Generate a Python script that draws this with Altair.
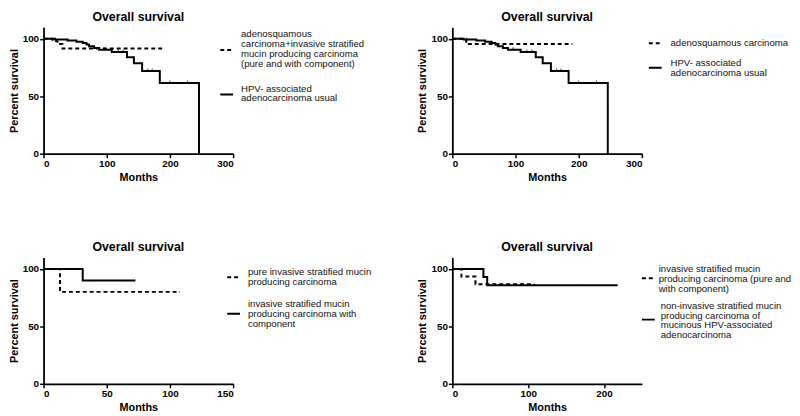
import altair as alt
import pandas as pd

FONT = "Liberation Sans"

# ---- data ----
# Panel 1 / 2 : HPV-associated adenocarcinoma usual (solid)
hpv_t = [0, 18, 38, 52, 62, 68, 72, 80, 88, 108, 132, 143, 156, 184, 246]
hpv_s = [100, 99.4, 98.6, 97.5, 96.3, 95.0, 93.5, 92.0, 90.5, 88.5, 84.0, 78.8, 72.0, 61.5, 0]
hpv_cens_t = [96, 118, 126, 165, 172, 200, 228]
hpv_cens_s = [90.5, 88.5, 88.5, 72.0, 72.0, 61.5, 61.5]

# Panel 1 dashed: adenosquamous + invasive stratified mucin producing carcinoma
asq_isn_t = [0, 14, 22, 30, 190]
asq_isn_s = [100, 98.0, 95.5, 91.5, 91.5]

# Panel 2 dashed: adenosquamous carcinoma
asq_t = [0, 22, 190]
asq_s = [100, 95.5, 95.5]

# Panel 3
pure_t = [0, 13, 108]
pure_s = [100, 80, 80]
comp_t = [0, 31, 72.7]
comp_s = [100, 90, 90]

# Panel 4
isn_t = [0, 12, 30.5, 108.5]
isn_s = [100, 93.3, 86.7, 86.7]
non_t = [0, 41, 46, 218]
non_s = [100, 93.0, 85.7, 85.7]

TITLE = "Overall survival"
XT = "Months"
YT = "Percent survival"

P1_LEG = ["adenosquamous\ncarcinoma+invasive stratified\nmucin producing carcinoma\n(pure and with component)",
          "HPV- associated\nadenocarcinoma usual"]
P2_LEG = ["adenosquamous carcinoma", "HPV- associated\nadenocarcinoma usual"]
P3_LEG = ["pure invasive stratified mucin\nproducing carcinoma",
          "invasive stratified mucin\nproducing carcinoma with\ncomponent"]
P4_LEG = ["invasive stratified mucin\nproducing carcinoma (pure and\nwith component)",
          "non-invasive stratified mucin\nproducing carcinoma of\nmucinous HPV-associated\nadenocarcinoma"]

W, H = 192, 128
DASH = [4, 3]
LEG_FS = 9.7


def curve(t, s, dashed, xmax):
    df = pd.DataFrame({"t": t, "s": s})
    m = alt.Chart(df).mark_line(interpolate="step-after", color="black", strokeWidth=2,
                                strokeDash=DASH if dashed else [1, 0], clip=True)
    return m.encode(
        x=alt.X("t:Q", scale=alt.Scale(domain=[0, xmax], nice=False)),
        y=alt.Y("s:Q", scale=alt.Scale(domain=[0, 110], nice=False)),
    )


def censor(t, s, xmax):
    df = pd.DataFrame({"t": t, "s": s})
    return alt.Chart(df).mark_tick(color="black", orient="vertical", size=3, thickness=1,
                                   yOffset=-1).encode(
        x=alt.X("t:Q", scale=alt.Scale(domain=[0, xmax], nice=False)),
        y=alt.Y("s:Q", scale=alt.Scale(domain=[0, 110], nice=False)),
    )


def legend_entry(label, dashed, sx, sy, tx, ty):
    one = pd.DataFrame({"label": [label]})
    sample = alt.Chart(one).mark_rule(color="black", strokeWidth=2,
                                      strokeDash=DASH if dashed else [1, 0]).encode(
        x=alt.value(sx), x2=alt.value(sx + 13), y=alt.value(sy))
    text = alt.Chart(one).mark_text(align="left", baseline="top", font=FONT, fontSize=LEG_FS,
                                    lineBreak="\n", lineHeight=10, color="#111").encode(
        x=alt.value(tx), y=alt.value(ty), text="label:N")
    return [sample, text]


def panel(layers, xmax, xstep):
    base = alt.Chart(pd.DataFrame({"t": [0], "s": [0]})).mark_point(opacity=0).encode(
        x=alt.X("t:Q", title=XT, scale=alt.Scale(domain=[0, xmax], nice=False),
                axis=alt.Axis(values=list(range(0, xmax + 1, xstep)))),
        y=alt.Y("s:Q", title=YT, scale=alt.Scale(domain=[0, 110], nice=False),
                axis=alt.Axis(values=[0, 50, 100])),
    )
    return alt.layer(base, *layers).properties(
        width=W, height=H,
        title=alt.TitleParams(TITLE, anchor="middle", frame="group", fontSize=12.5,
                              font=FONT, fontWeight="bold", offset=4),
    )


p1 = panel([curve(asq_isn_t, asq_isn_s, True, 300), curve(hpv_t, hpv_s, False, 300),
            censor(hpv_cens_t, hpv_cens_s, 300)]
           + legend_entry(P1_LEG[0], True, 179, 23, 200, 2)
           + legend_entry(P1_LEG[1], False, 179, 68, 200, 57), 300, 100)

p2 = panel([curve(asq_t, asq_s, True, 300), curve(hpv_t, hpv_s, False, 300),
            censor(hpv_cens_t, hpv_cens_s, 300)]
           + legend_entry(P2_LEG[0], True, 199, 16, 221, 11)
           + legend_entry(P2_LEG[1], False, 199, 41, 221, 31), 300, 100)

p3 = panel([curve(pure_t, pure_s, True, 150), curve(comp_t, comp_s, False, 150)]
           + legend_entry(P3_LEG[0], True, 186, 20, 207, 10)
           + legend_entry(P3_LEG[1], False, 186, 57, 207, 42), 150, 50)

p4 = panel([curve(isn_t, isn_s, True, 250), curve(non_t, non_s, False, 250)]
           + legend_entry(P4_LEG[0], True, 192, 21, 209, 7)
           + legend_entry(P4_LEG[1], False, 192, 63, 211, 44), 250, 50)

chart = alt.concat(p1, p2, p3, p4, columns=2,
                   spacing=alt.RowColnumber(row=105, column=222), bounds="flush").properties(
    padding=0,
).configure_view(stroke=None).configure_axis(
    grid=False, domainColor="black", domainWidth=1.8, tickColor="black", tickWidth=1.5,
    tickSize=4, labelFont=FONT, labelFontWeight="bold", labelFontSize=10, labelColor="black",
    labelPadding=1, titleFont=FONT, titleFontWeight="bold", titleFontSize=11,
    titleColor="black", titlePadding=3,
)

chart.save("out.html", embed_options={"renderer": "svg", "actions": False})
